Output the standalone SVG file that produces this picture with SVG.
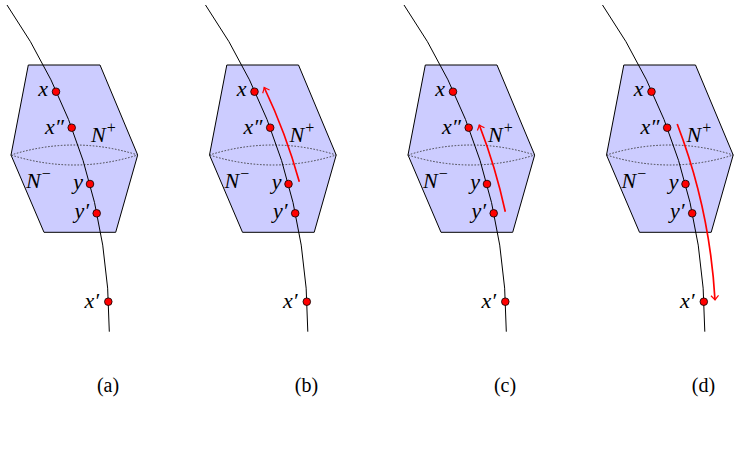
<svg xmlns="http://www.w3.org/2000/svg" width="756" height="465" viewBox="0 0 756 465">
<style>
.hex{fill:#ccccff;stroke:#000;stroke-width:1;stroke-linejoin:round}
.lens{fill:none;stroke:#333;stroke-width:0.9;stroke-dasharray:0.8 2.4;stroke-linecap:round}
.curve{fill:none;stroke:#000;stroke-width:1}
.dot{fill:#ff0000;stroke:#000;stroke-width:0.8}
.arr{fill:none;stroke:#ff0000;stroke-width:1.7}
text{font-family:'Liberation Serif','DejaVu Serif',serif}
.it{font-style:italic;font-size:22px}
.sup{font-style:normal;font-size:16px}
.cap{font-size:20px}
</style>
<defs>
<marker id="ah" markerUnits="userSpaceOnUse" markerWidth="12" markerHeight="12" viewBox="-6 -6 12 12" refX="0" refY="0" orient="auto">
<path d="M -4.5 -3.8 Q -1.5 -1 0 0 Q -1.5 1 -4.5 3.8" fill="none" stroke="#ff0000" stroke-width="1.2"/>
</marker>
<g id="panel">
<polygon class="hex" points="28.3,65 100,65 137.7,155 115.7,232.3 44,232.3 11,155"/>
<path class="lens" d="M 11 155 Q 74.3 135 137.7 155 Q 74.3 175 11 155 Z"/>
<path class="curve" d="M 7 5 A 573.7 573.7 0 0 1 109.3 331.7"/>
<circle class="dot" cx="56" cy="91.7" r="3.8"/>
<circle class="dot" cx="71.7" cy="127.7" r="3.8"/>
<circle class="dot" cx="90" cy="184" r="3.8"/>
<circle class="dot" cx="96.7" cy="213.3" r="3.8"/>
<circle class="dot" cx="108.3" cy="301.7" r="3.8"/>
<text class="it" x="48" y="96" text-anchor="end">x</text>
<text class="it" x="64" y="134" text-anchor="end">x″</text>
<text class="it" x="91" y="142">N<tspan class="sup" dx="1" dy="-9">+</tspan></text>
<text class="it" x="26" y="188">N<tspan class="sup" dx="1" dy="-9">−</tspan></text>
<text class="it" x="83" y="189" text-anchor="end">y</text>
<text class="it" x="89" y="218" text-anchor="end">y′</text>
<text class="it" x="99" y="308" text-anchor="end">x′</text>
</g>
</defs>
<g id="panel-a">
<use href="#panel"/>
<text class="cap" x="108" y="392" text-anchor="middle">(a)</text>
</g>
<g id="panel-b" transform="translate(198.5,0)">
<use href="#panel"/>
<text class="cap" x="108" y="392" text-anchor="middle">(b)</text>
</g>
<g id="panel-c" transform="translate(397,0)">
<use href="#panel"/>
<text class="cap" x="108" y="392" text-anchor="middle">(c)</text>
</g>
<g id="panel-d" transform="translate(595.5,0)">
<use href="#panel"/>
<text class="cap" x="108" y="392" text-anchor="middle">(d)</text>
</g>
<g id="connectors">
<path class="arr" marker-end="url(#ah)" d="M 299.3 181.7 A 584.6 584.6 0 0 0 264.2 87.5"/>
<path class="arr" marker-end="url(#ah)" d="M 505.3 211.7 A 584.7 584.7 0 0 0 479.3 125"/>
<path class="arr" marker-end="url(#ah)" d="M 677.2 124 A 584.6 584.6 0 0 1 715 300"/>
</g>
</svg>
